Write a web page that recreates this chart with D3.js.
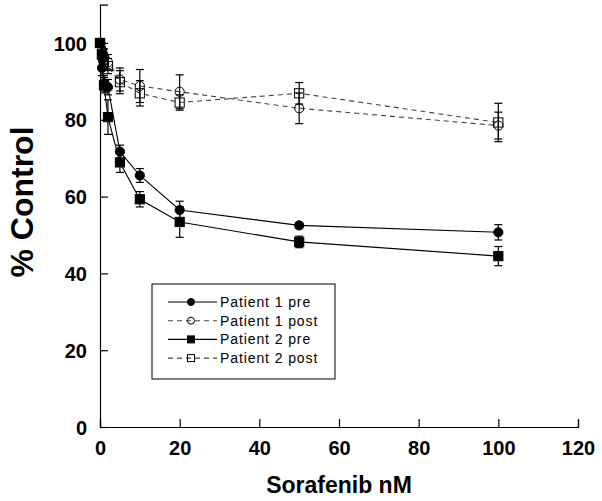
<!DOCTYPE html>
<html><head><meta charset="utf-8">
<script src="https://cdn.jsdelivr.net/npm/d3@7"></script>
<style>body{margin:0;background:#fff}svg{display:block}</style>
</head><body>
<script>
const conc = [0, 0.5, 1, 2, 5, 10, 20, 50, 100];
const p1pre = [100, 93.5, 89.5, 88.5, 71.7, 65.5, 56.5, 52.5, 50.7];
const p1preErr = [0, 2, 2, 2, 1.7, 1.8, 2.3, 0.8, 2];
const p1post = [100, 98, 96.5, 95, 90.5, 88.8, 87.3, 83, 78.5];
const p1postErr = [0, 2, 2, 2, 3, 4.3, 4.4, 4, 3.5];
const p2pre = [100, 97, 89, 80.7, 68.9, 59.3, 53.4, 48.2, 44.5];
const p2preErr = [0, 2, 2, 4.5, 2.6, 2, 4, 1.5, 2.5];
const p2post = [100, 97, 95.5, 94, 89.8, 86.9, 84.5, 86.9, 79.3];
const p2postErr = [0, 2, 2, 2, 3, 3.3, 2, 2.8, 5];
const xTicks = [0, 20, 40, 60, 80, 100, 120];
const yTicks = [0, 20, 40, 60, 80, 100];
const legendLabels = ["Patient 1 pre", "Patient 1 post", "Patient 2 pre", "Patient 2 post"];

const W = 602, H = 501;
const svg = d3.select("body").append("svg").attr("width", W).attr("height", H);
const x = d3.scaleLinear().domain([0, 120]).range([100, 578]);
const y = d3.scaleLinear().domain([0, 110]).range([427, 4.6]);
const font = "'Liberation Sans', Arial, sans-serif";

const series = [
  {vals: p1pre, err: p1preErr, shape: "circle", fill: "#000", dash: null, stroke: "#000"},
  {vals: p1post, err: p1postErr, shape: "circle", fill: "none", dash: "5,4", stroke: "#444"},
  {vals: p2pre, err: p2preErr, shape: "square", fill: "#000", dash: null, stroke: "#000"},
  {vals: p2post, err: p2postErr, shape: "square", fill: "none", dash: "5,4", stroke: "#444"}
];

// axes
const xAxis = d3.axisBottom(x).tickValues(xTicks).tickSize(-8).tickPadding(14).tickFormat(d3.format("d"));
const gx = svg.append("g").attr("transform", "translate(0,427)").call(xAxis);
const yAxis = d3.axisLeft(y).tickValues(yTicks).tickSize(-8).tickPadding(13).tickFormat(d3.format("d"));
const gy = svg.append("g").attr("transform", "translate(100,0)").call(yAxis);
[gx, gy].forEach(g => {
  g.select(".domain").attr("stroke", "#000").attr("stroke-width", 1.2);
  g.selectAll(".tick line").attr("stroke", "#000").attr("stroke-width", 1.2);
  g.selectAll(".tick text").attr("font-family", font).attr("font-weight", "bold")
    .attr("font-size", 20).attr("fill", "#000");
});
gx.selectAll(".tick text").attr("dy", "0.71em");
gy.selectAll(".tick text").attr("dy", "0.35em");

svg.append("text").attr("x", 339).attr("y", 493).attr("text-anchor", "middle")
  .attr("font-family", font).attr("font-weight", "bold").attr("font-size", 23).text("Sorafenib nM");
svg.append("text").attr("transform", "translate(33,202) rotate(-90)").attr("text-anchor", "middle")
  .attr("font-family", font).attr("font-weight", "bold").attr("font-size", 32).text("% Control");

const line = d3.line().x(d => x(d[0])).y(d => y(d[1]));

function drawMarker(g, shape, fill, cx, cy, r) {
  if (shape === "circle") {
    g.append("circle").attr("cx", cx).attr("cy", cy).attr("r", r)
      .attr("fill", fill).attr("stroke", "#000").attr("stroke-width", 1);
  } else {
    g.append("rect").attr("x", cx - r).attr("y", cy - r).attr("width", 2 * r).attr("height", 2 * r)
      .attr("fill", fill).attr("stroke", "#000").attr("stroke-width", 1);
  }
}

// lines
series.forEach(s => {
  const pts = conc.map((c, i) => [c, s.vals[i]]);
  svg.append("path").attr("d", line(pts)).attr("fill", "none")
    .attr("stroke", s.stroke).attr("stroke-width", 1.1)
    .attr("stroke-dasharray", s.dash);
});
// error bars
series.forEach(s => {
  conc.forEach((c, i) => {
    const e = s.err[i];
    if (!e) return;
    const cx = x(c), y1 = y(s.vals[i] + e), y2 = y(s.vals[i] - e);
    const g = svg.append("g").attr("stroke", "#000").attr("stroke-width", 1.2);
    g.append("line").attr("x1", cx).attr("x2", cx).attr("y1", y1).attr("y2", y2);
    g.append("line").attr("x1", cx - 4).attr("x2", cx + 4).attr("y1", y1).attr("y2", y1);
    g.append("line").attr("x1", cx - 4).attr("x2", cx + 4).attr("y1", y2).attr("y2", y2);
  });
});
// markers
series.forEach(s => {
  const g = svg.append("g");
  conc.forEach((c, i) => drawMarker(g, s.shape, s.fill, x(c), y(s.vals[i]), 4.6));
});

// legend
const lg = svg.append("g");
lg.append("rect").attr("x", 152).attr("y", 284).attr("width", 183).attr("height", 95)
  .attr("fill", "#fff").attr("stroke", "#000").attr("stroke-width", 1);
series.forEach((s, i) => {
  const ly = 302 + i * 18.7;
  lg.append("line").attr("x1", 168).attr("x2", 217).attr("y1", ly).attr("y2", ly)
    .attr("stroke", s.stroke).attr("stroke-width", 1.1).attr("stroke-dasharray", s.dash);
  drawMarker(lg, s.shape, s.fill, 191, ly, 3.5);
  lg.append("text").attr("x", 220).attr("y", ly).attr("dy", "0.36em")
    .attr("font-family", font).attr("font-size", 14).attr("letter-spacing", 0.9)
    .attr("fill", "#000").text(legendLabels[i]);
});
</script>
</body></html>
